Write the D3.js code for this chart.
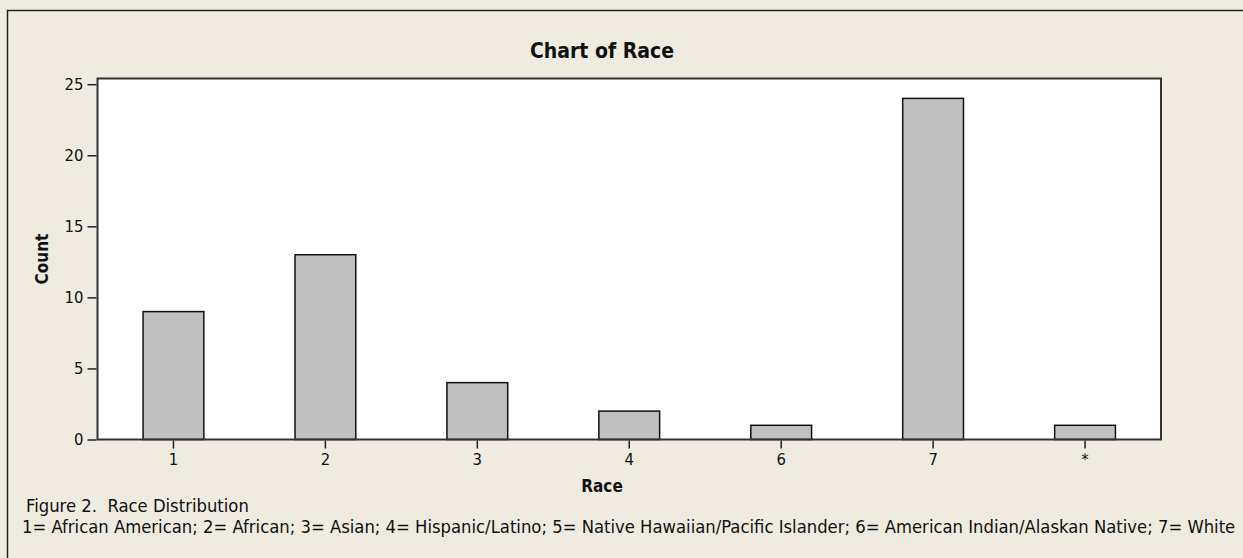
<!DOCTYPE html>
<html>
<head>
<meta charset="utf-8">
<script src="https://cdn.jsdelivr.net/npm/d3@7"></script>
<style>
  body { margin: 0; background: #fff; }
  svg { display: block; }
  text { font-family: "DejaVu Sans Condensed", "DejaVu Sans", sans-serif; fill: #111; }
</style>
</head>
<body>
<div id="chart"></div>
<script>
// Data
const categories = ["1", "2", "3", "4", "6", "7", "*"];
const counts = [9, 13, 4, 2, 1, 24, 1];
const yTicks = [0, 5, 10, 15, 20, 25];
const title = "Chart of Race";
const xLabel = "Race";
const yLabel = "Count";
const captionLines = [
    "Figure 2.  Race Distribution",
    "1= African American; 2= African; 3= Asian; 4= Hispanic/Latino; 5= Native Hawaiian/Pacific Islander; 6= American Indian/Alaskan Native; 7= White"
];

// Layout
const W = 1243, H = 558;
const PLOT = { left: 97.5, right: 1161, top: 78.5, bottom: 439.5 };
const BG = "#efebe1";

const svg = d3.select("#chart")
    .append("svg")
    .attr("width", W)
    .attr("height", H);

// Background and frame (only top/left edges visible)
svg.append("rect").attr("width", W).attr("height", H).attr("fill", BG);
svg.append("path")
    .attr("d", `M7.5,${H} V10.5 H${W}`)
    .attr("fill", "none")
    .attr("stroke", "#222")
    .attr("stroke-width", 1.5);

// Scales
const x = d3.scaleBand()
    .domain(categories)
    .range([PLOT.left, PLOT.right])
    .paddingInner(0.6)
    .paddingOuter(0.3);

const y = d3.scaleLinear()
    .domain([0, 25.4])
    .range([PLOT.bottom, PLOT.top]);

// Plot area
svg.append("rect")
    .attr("x", PLOT.left)
    .attr("y", PLOT.top)
    .attr("width", PLOT.right - PLOT.left)
    .attr("height", PLOT.bottom - PLOT.top)
    .attr("fill", "#fff");

// Bars
svg.selectAll(".bar")
    .data(counts)
    .join("rect")
    .attr("class", "bar")
    .attr("x", (d, i) => x(categories[i]))
    .attr("y", d => y(d))
    .attr("width", x.bandwidth())
    .attr("height", d => y(0) - y(d))
    .attr("fill", "#c0c0c0")
    .attr("stroke", "#111")
    .attr("stroke-width", 1.5);

// Plot border
svg.append("rect")
    .attr("x", PLOT.left)
    .attr("y", PLOT.top)
    .attr("width", PLOT.right - PLOT.left)
    .attr("height", PLOT.bottom - PLOT.top)
    .attr("fill", "none")
    .attr("stroke", "#333")
    .attr("stroke-width", 2);

// Y axis
svg.append("g")
    .attr("transform", `translate(${PLOT.left - 1}, 0)`)
    .call(d3.axisLeft(y).tickValues(yTicks).tickSize(9).tickPadding(4))
    .call(g => g.select(".domain").remove())
    .call(g => g.selectAll(".tick line").attr("stroke", "#222").attr("stroke-width", 1.5))
    .call(g => g.selectAll(".tick text").style("font-size", "16.5px").attr("fill", "#111"));

// X axis
svg.append("g")
    .attr("transform", `translate(0, ${PLOT.bottom + 1})`)
    .call(d3.axisBottom(x).tickSize(8).tickPadding(5))
    .call(g => g.select(".domain").remove())
    .call(g => g.selectAll(".tick line").attr("stroke", "#222").attr("stroke-width", 1.5))
    .call(g => g.selectAll(".tick text").style("font-size", "16.5px").attr("fill", "#111"));

// Title
svg.append("text")
    .attr("x", 602)
    .attr("y", 58)
    .attr("text-anchor", "middle")
    .style("font-size", "21px")
    .style("font-weight", "bold")
    .text(title);

// Axis labels
svg.append("text")
    .attr("x", 602)
    .attr("y", 492)
    .attr("text-anchor", "middle")
    .style("font-size", "17px")
    .style("font-weight", "bold")
    .text(xLabel);

svg.append("text")
    .attr("transform", `translate(48, ${(PLOT.top + PLOT.bottom) / 2}) rotate(-90)`)
    .attr("text-anchor", "middle")
    .style("font-size", "17px")
    .style("font-weight", "bold")
    .text(yLabel);

// Caption
svg.selectAll(".caption")
    .data(captionLines)
    .join("text")
    .attr("class", "caption")
    .attr("x", (d, i) => i === 0 ? 26 : 22)
    .attr("y", (d, i) => 512 + i * 21)
    .style("font-size", "18.3px")
    .style("white-space", "pre")
    .text(d => d);
</script>
</body>
</html>
